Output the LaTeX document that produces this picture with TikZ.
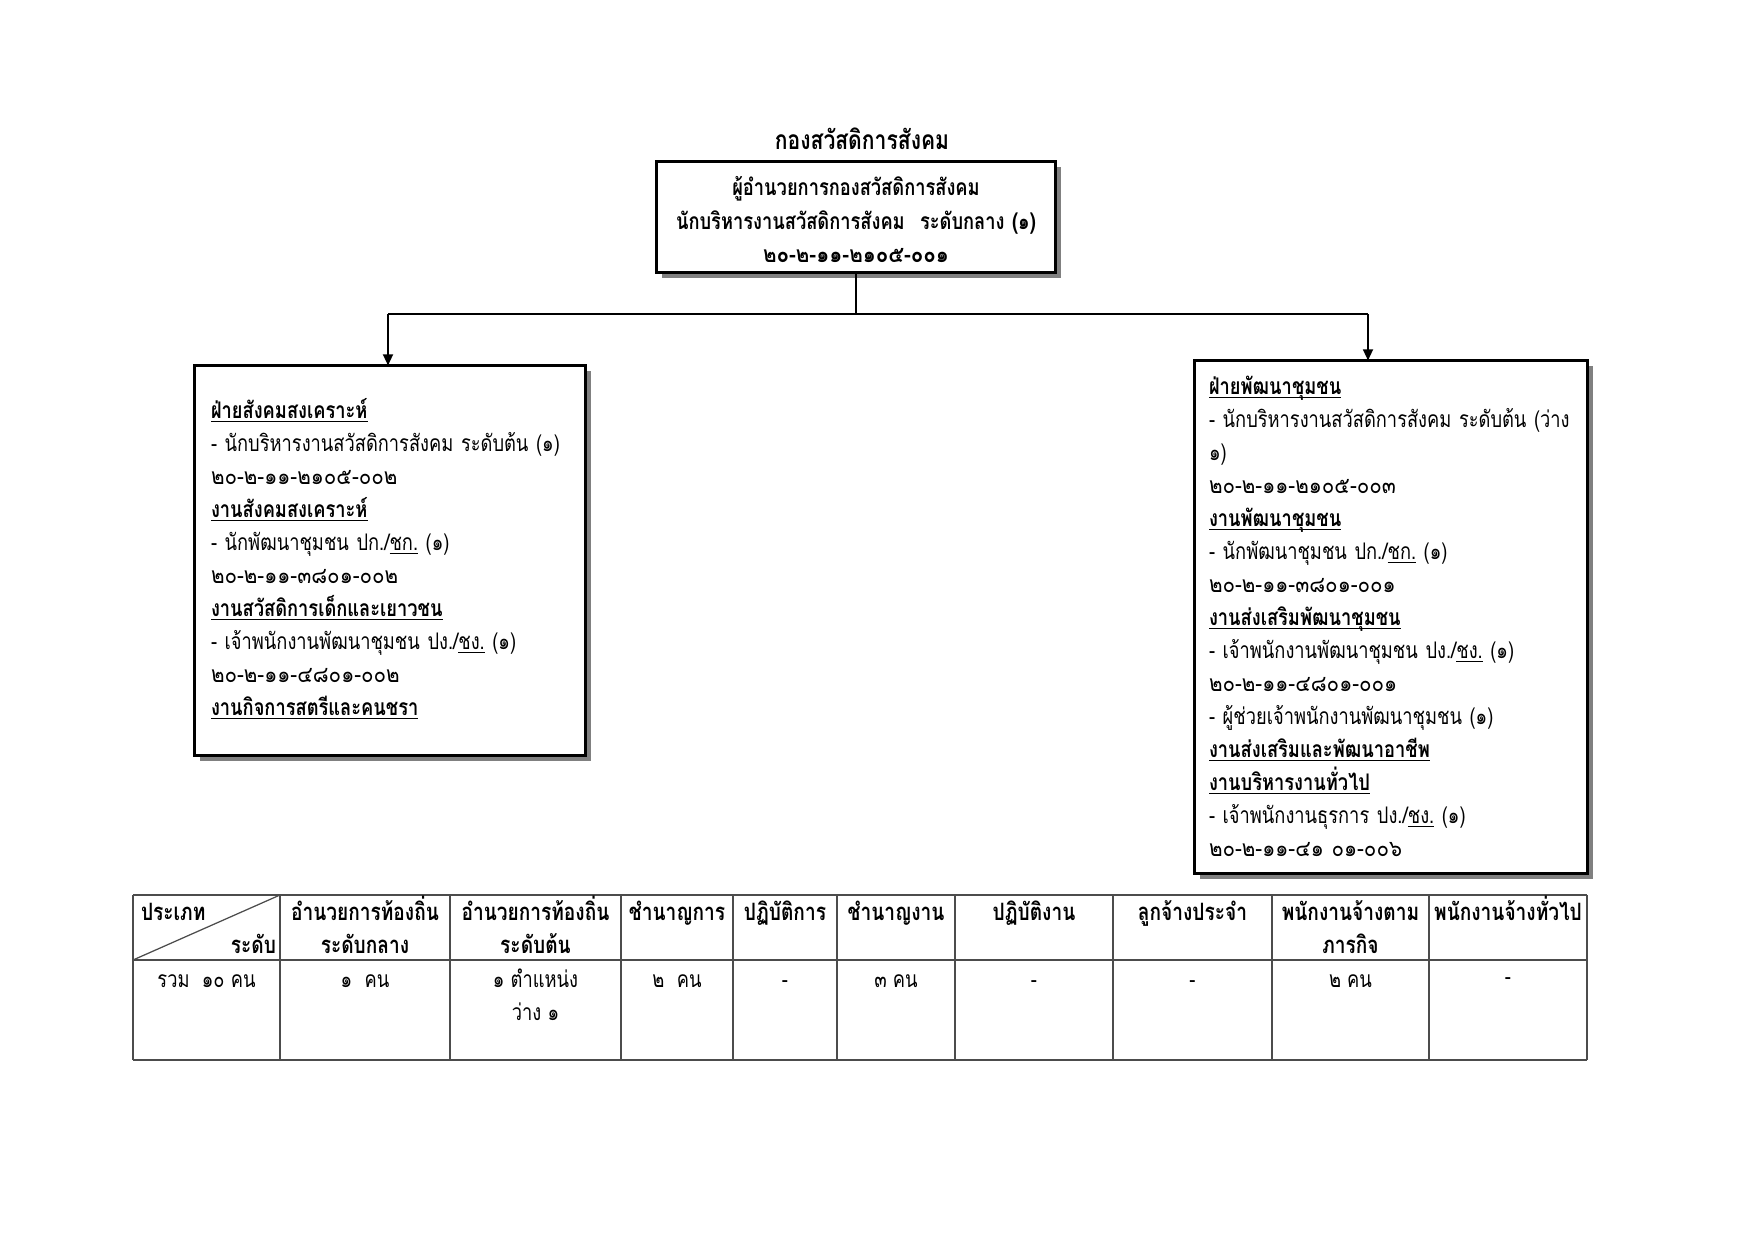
\documentclass[tikz,border=0pt]{standalone}
\usepackage{fontspec}
\setmainfont[Script=Thai, FakeStretch=0.8]{Loma}
\newfontfamily\digfont[Script=Thai, FakeStretch=0.9]{Loma}
\usetikzlibrary{arrows.meta,shadows}
\def\px{0.16923mm}
\newcommand\uln[1]{\leavevmode\setbox0=\hbox{#1}\rlap{\rule[-2pt]{\wd0}{0.6pt}}\box0\relax}
\newcommand\bodyfont{\fontsize{11pt}{15.9pt}\selectfont}
\newcommand\code[1]{{\digfont #1}}
\begin{document}
\begin{tikzpicture}[x=0.16923mm,y=-0.16923mm,
  every node/.style={inner sep=0pt, outer sep=0pt},
  orgbox/.style={draw, line width=1.3pt, fill=white,
    drop shadow={shadow xshift=0.85mm, shadow yshift=-0.85mm, fill=black!50, opacity=1}},
  conn/.style={line width=0.9pt},
  arr/.style={conn, -{Triangle[width=4.8pt,length=5.4pt]}},
  boxtext/.style={anchor=base west, align=left, text width=500*\px, font=\bodyfont},
  grid/.style={draw=black!70, line width=0.6pt},
  hd/.style={anchor=base, align=center, font=\fontsize{11.5pt}{15.9pt}\selectfont\bfseries},
  bd/.style={anchor=base, align=center, font=\bodyfont},
]
\useasboundingbox (0,0) rectangle (1755,1241);
\fill[white] (0,0) rectangle (1755,1241);

% title
\node[anchor=base, font=\fontsize{12.7pt}{15.9pt}\selectfont\bfseries] (title) at (862,149) {กองสวัสดิการสังคม};

% boxes
\node[orgbox, minimum width=399*\px, minimum height=111*\px] (top) at (856,217) {};
\node[orgbox, minimum width=391*\px, minimum height=390*\px] (lbox) at (390,560.5) {};
\node[orgbox, minimum width=393*\px, minimum height=513*\px] (rbox) at (1391,617) {};

% top box text
\node[anchor=base, align=center, text width=390*\px, font=\fontsize{11pt}{16.3pt}\selectfont\bfseries] (toptext) at (856,195.5)
 {ผู้อำนวยการกองสวัสดิการสังคม\\
  นักบริหารงานสวัสดิการสังคม~ ระดับกลาง (๑)\\[-0.4pt]
  \code{๒๐-๒-๑๑-๒๑๐๕-๐๐๑}};

% left box text
\node[boxtext] (ltext) at (211,418) {%
\uln{\textbf{ฝ่ายสังคมสงเคราะห์}}\\
- นักบริหารงานสวัสดิการสังคม ระดับต้น (๑)\\
\code{๒๐-๒-๑๑-๒๑๐๕-๐๐๒}\\
\uln{\textbf{งานสังคมสงเคราะห์}}\\
- นักพัฒนาชุมชน ปก./\uln{ชก.} (๑)\\
\code{๒๐-๒-๑๑-๓๘๐๑-๐๐๒}\\
\uln{\textbf{งานสวัสดิการเด็กและเยาวชน}}\\
- เจ้าพนักงานพัฒนาชุมชน ปง./\uln{ชง.} (๑)\\
\code{๒๐-๒-๑๑-๔๘๐๑-๐๐๒}\\
\uln{\textbf{งานกิจการสตรีและคนชรา}}};

% right box text
\node[boxtext] (rtext) at (1209,394) {%
\uln{\textbf{ฝ่ายพัฒนาชุมชน}}\\
- นักบริหารงานสวัสดิการสังคม ระดับต้น (ว่าง\\
๑)\\
\code{๒๐-๒-๑๑-๒๑๐๕-๐๐๓}\\
\uln{\textbf{งานพัฒนาชุมชน}}\\
- นักพัฒนาชุมชน ปก./\uln{ชก.} (๑)\\
\code{๒๐-๒-๑๑-๓๘๐๑-๐๐๑}\\
\uln{\textbf{งานส่งเสริมพัฒนาชุมชน}}\\
- เจ้าพนักงานพัฒนาชุมชน ปง./\uln{ชง.} (๑)\\
\code{๒๐-๒-๑๑-๔๘๐๑-๐๐๑}\\
- ผู้ช่วยเจ้าพนักงานพัฒนาชุมชน (๑)\\
\uln{\textbf{งานส่งเสริมและพัฒนาอาชีพ}}\\
\uln{\textbf{งานบริหารงานทั่วไป}}\\
- เจ้าพนักงานธุรการ ปง./\uln{ชง.} (๑)\\
\code{๒๐-๒-๑๑-๔๑ ๐๑-๐๐๖}};

% connectors
\coordinate (jl) at (388,314);
\coordinate (jr) at (1368,314);
\draw[conn] (top.south) -- (top.south |- jl);
\draw[conn] (jl) -- (jr);
\draw[arr] (jl) -- (jl |- lbox.north);
\draw[arr] (jr) -- (jr |- rbox.north);

% table grid
\foreach \xx in {133,280,450,621,733,837,955,1113,1272,1429,1587}
  \draw[grid] (\xx,895) -- (\xx,1060);
\foreach \yy in {895,960,1060}
  \draw[grid] (133,\yy) -- (1587,\yy);
\draw[grid] (133,960) -- (280,895);

% table header
\node[anchor=base west, font=\fontsize{11.5pt}{15.9pt}\selectfont\bfseries] (h1a) at (141,920) {ประเภท};
\node[anchor=base east, font=\fontsize{11.5pt}{15.9pt}\selectfont\bfseries] (h1b) at (276,953) {ระดับ};
\node[hd] (h2a) at (365,920) {อำนวยการท้องถิ่น};
\node[hd] (h2b) at (365,953) {ระดับกลาง};
\node[hd] (h3a) at (535.5,920) {อำนวยการท้องถิ่น};
\node[hd] (h3b) at (535.5,953) {ระดับต้น};
\node[hd] (h4) at (677,920) {ชำนาญการ};
\node[hd] (h5) at (785,920) {ปฏิบัติการ};
\node[hd] (h6) at (896,920) {ชำนาญงาน};
\node[hd] (h7) at (1034,920) {ปฏิบัติงาน};
\node[hd] (h8) at (1192.5,920) {ลูกจ้างประจำ};
\node[hd] (h9a) at (1350.5,920) {พนักงานจ้างตาม};
\node[hd] (h9b) at (1350.5,953) {ภารกิจ};
\node[hd] (h10) at (1508,920) {พนักงานจ้างทั่วไป};

% table body
\node[bd] (b1) at (206.5,987) {รวม~ ๑๐ คน};
\node[bd] (b2) at (365,987) {๑~ คน};
\node[bd] (b3a) at (535.5,987) {๑ ตำแหน่ง};
\node[bd] (b3b) at (535.5,1020) {ว่าง ๑};
\node[bd] (b4) at (677,987) {๒~ คน};
\node[bd] (b5) at (785,987) {-};
\node[bd] (b6) at (896,987) {๓ คน};
\node[bd] (b7) at (1034,987) {-};
\node[bd] (b8) at (1192.5,987) {-};
\node[bd] (b9) at (1350.5,987) {๒ คน};
\node[bd] (b10) at (1508,984) {-};
\end{tikzpicture}
\end{document}
